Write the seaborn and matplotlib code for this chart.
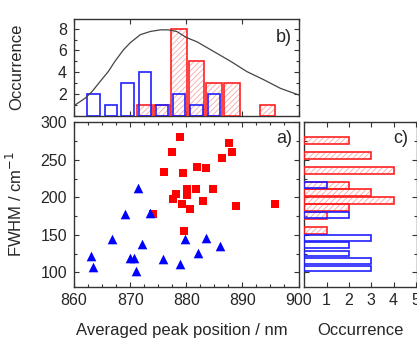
import matplotlib
matplotlib.use("Agg")
import matplotlib.pyplot as plt
from matplotlib.ticker import MultipleLocator
import numpy as np
import pandas as pd
import seaborn as sns

# ---- scatter: averaged peak position vs FWHM ----
red_pos = [878.9, 877.5, 887.7, 888.2, 886.4, 876.0, 879.5, 882.0, 883.5, 884.8, 880.1,
           881.8, 878.2, 877.6, 880.2, 879.2, 880.7, 883.0, 888.8, 895.8, 874.0, 879.6]
red_fwhm = [280, 260, 272, 261, 252, 233.6, 232, 240.8, 239, 211, 211,
            210.5, 204.7, 198, 203, 191.8, 184.2, 195.3, 189, 191.8, 177.5, 155.7]
blue_pos = [871.4, 869.0, 873.6, 866.8, 872.2, 863.0, 863.3, 870.0, 870.7, 871.1,
            875.9, 879.8, 878.9, 883.5, 882.1, 886.0]
blue_fwhm = [212.7, 178.4, 178.9, 144, 138.3, 122.2, 107.1, 119.6, 119.6, 101.8,
             117.8, 144, 110.7, 146.3, 125.4, 135.6]

# ---- histogram of peak positions (top panel) ----
blue_pos_bins = [863.5, 866.55, 869.55, 872.6, 875.7, 878.7, 881.85, 884.95]
blue_pos_counts = [2, 1, 3, 4, 1, 2, 1, 2]
red_pos_bins = [872.55, 875.65, 878.7, 881.85, 884.95, 888.1, 894.5]
red_pos_counts = [1, 1, 8, 5, 3, 3, 1]

# distribution envelope drawn over the top histogram
curve_x = [860, 862, 863.2, 864.6, 866.1, 867.3, 868.8, 870, 871.8, 873.6, 875.4,
           876.8, 878.3, 880, 881.9, 884.9, 887.9, 890.8, 893.8, 896.8, 900]
curve_y = [0.9, 1.6, 2.2, 3.1, 4.05, 5.0, 6.05, 6.7, 7.45, 7.75, 7.9,
           7.9, 7.75, 7.2, 6.8, 5.9, 5.0, 4.05, 3.3, 2.5, 1.9]

# ---- histogram of FWHM (right panel) ----
red_fwhm_bins = [276, 256, 236, 216, 206, 196, 186, 176, 156]
red_fwhm_counts = [2, 3, 4, 2, 3, 4, 2, 1, 1]
blue_fwhm_bins = [216, 176, 146, 136, 125, 115, 105]
blue_fwhm_counts = [1, 2, 3, 2, 2, 3, 3]

RED = "#ff2020"
BLUE = "#2020ff"
HATCH_RED = "#f7a8a8"

sns.set_style("ticks")
plt.rcParams["font.family"] = ["Liberation Sans", "DejaVu Sans"]
plt.rcParams["hatch.linewidth"] = 0.6
plt.rcParams["axes.edgecolor"] = "#333333"
plt.rcParams["axes.linewidth"] = 1.0

W, H = 417, 338
fig = plt.figure(figsize=(W / 100, H / 100), dpi=100)
axb = fig.add_axes([74 / W, 1 - 115.5 / H, 224.5 / W, 96.5 / H])
axa = fig.add_axes([74 / W, 1 - 286.5 / H, 224.5 / W, (286.5 - 121.7) / H])
axc = fig.add_axes([304.3 / W, 1 - 286.5 / H, (W - 304.3) / W, (286.5 - 121.7) / H])

TICK_FS = 11.5
LABEL_FS = 12


def style_ticks(ax):
    ax.tick_params(which="both", direction="in", top=True, right=True,
                   labelsize=TICK_FS, color="#333333", pad=5)
    ax.tick_params(which="major", length=3.5, width=0.8)
    ax.tick_params(which="minor", length=2, width=0.8)


# ---- panel a: scatter ----
df_red = pd.DataFrame({"pos": red_pos, "fwhm": red_fwhm})
df_blue = pd.DataFrame({"pos": blue_pos, "fwhm": blue_fwhm})
sns.scatterplot(data=df_red, x="pos", y="fwhm", ax=axa, marker="s", s=34,
                color="#ff0000", linewidth=0)
sns.scatterplot(data=df_blue, x="pos", y="fwhm", ax=axa, marker="^", s=48,
                color="#0000ff", linewidth=0)
axa.set_xlim(860, 900)
axa.set_ylim(81, 301)
axa.xaxis.set_major_locator(MultipleLocator(10))
axa.xaxis.set_minor_locator(MultipleLocator(2.5))
axa.yaxis.set_major_locator(MultipleLocator(50))
axa.yaxis.set_minor_locator(MultipleLocator(25))
style_ticks(axa)
axa.set_xlabel("Averaged peak position / nm", fontsize=LABEL_FS)
axa.set_ylabel("FWHM / cm$^{-1}$", fontsize=LABEL_FS)
axa.xaxis.set_label_coords(0.48, -0.22)
axa.yaxis.set_label_coords(-0.22, 0.5)
axa.text(0.97, 0.95, "a)", transform=axa.transAxes, ha="right", va="top", fontsize=13)

# ---- panel b: position histogram ----
axb.bar(red_pos_bins, red_pos_counts, width=2.8, color="none", edgecolor=HATCH_RED,
        hatch="//////", linewidth=0, zorder=2)
axb.bar(red_pos_bins, red_pos_counts, width=2.8, color="none", edgecolor=RED,
        linewidth=1.2, zorder=3)
axb.bar(blue_pos_bins, blue_pos_counts, width=2.2, color="none", edgecolor=BLUE,
        linewidth=1.2, zorder=4)
sns.lineplot(x=curve_x, y=curve_y, ax=axb, color="#444444", linewidth=0.9, zorder=5)
axb.set_xlim(860, 900)
axb.set_ylim(0, 8.9)
axb.xaxis.set_major_locator(MultipleLocator(10))
axb.yaxis.set_major_locator(MultipleLocator(2))
axb.yaxis.set_minor_locator(MultipleLocator(1))
axb.set_yticks([2, 4, 6, 8])
style_ticks(axb)
axb.tick_params(axis="x", labelbottom=False)
axb.set_ylabel("Occurrence", fontsize=LABEL_FS)
axb.yaxis.set_label_coords(-0.22, 0.5)
axb.text(0.97, 0.9, "b)", transform=axb.transAxes, ha="right", va="top", fontsize=13)

# ---- panel c: FWHM histogram ----
axc.barh(red_fwhm_bins, red_fwhm_counts, height=9.2, color="none", edgecolor=HATCH_RED,
         hatch="//////", linewidth=0, zorder=2)
axc.barh(red_fwhm_bins, red_fwhm_counts, height=9.2, color="none", edgecolor=RED,
         linewidth=1.2, zorder=3)
axc.barh(blue_fwhm_bins, blue_fwhm_counts, height=7.8, color="none", edgecolor=BLUE,
         linewidth=1.2, zorder=4)
axc.set_xlim(0, 5.05)
axc.set_ylim(81, 301)
axc.set_xticks([1, 2, 3, 4, 5])
axc.yaxis.set_major_locator(MultipleLocator(50))
axc.yaxis.set_minor_locator(MultipleLocator(25))
style_ticks(axc)
axc.tick_params(axis="y", labelleft=False)
axc.set_xlabel("Occurrence", fontsize=LABEL_FS)
axc.xaxis.set_label_coords(0.5, -0.22)
axc.text(0.92, 0.95, "c)", transform=axc.transAxes, ha="right", va="top", fontsize=13)

fig.savefig("out.png", dpi=100)
